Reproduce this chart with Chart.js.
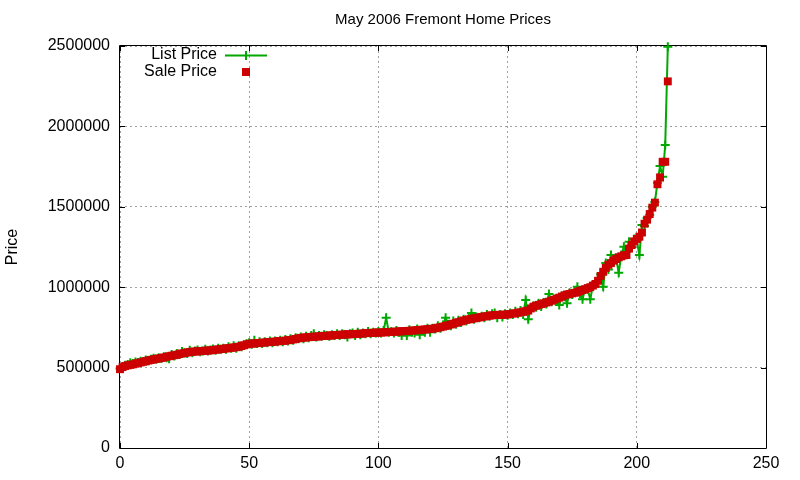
<!DOCTYPE html>
<html>
<head>
<meta charset="utf-8">
<script src="https://cdn.jsdelivr.net/npm/chart.js@4"></script>
<style>
html,body{margin:0;padding:0;background:#fff;}
#wrap{width:800px;height:480px;position:relative;}
</style>
</head>
<body>
<div id="wrap"><canvas id="c" width="800" height="480"></canvas></div>
<script>
const chartTitle = "May 2006 Fremont Home Prices";
const yAxisLabel = "Price";
const seriesNames = ["List Price", "Sale Price"];
const xTicks = [0, 50, 100, 150, 200, 250];
const yTicks = [0, 500000, 1000000, 1500000, 2000000, 2500000];

// Sale prices (thousands), sorted ascending
const salePriceK = [
  490, 503, 510, 514, 517, 520, 524, 528, 532, 536,
  540, 544, 548, 551, 554, 557, 560, 563, 567, 571,
  574, 577, 580, 584, 588, 591, 594, 597, 599, 600,
  601, 602, 603, 605, 606, 607, 609, 611, 613, 615,
  617, 619, 621, 623, 625, 627, 630, 634, 639, 644,
  648, 649, 650, 652, 653, 655, 656, 658, 659, 660,
  662, 663, 665, 666, 668, 670, 672, 675, 678, 682,
  685, 686, 688, 689, 690, 692, 693, 694, 696, 697,
  698, 699, 700, 702, 703, 704, 705, 706, 707, 707,
  708, 709, 710, 711, 712, 714, 715, 716, 717, 717,
  718, 718, 719, 720, 721, 722, 723, 724, 725, 726,
  727, 728, 729, 730, 731, 733, 734, 736, 737, 739,
  740, 742, 745, 748, 751, 755, 759, 763, 768, 773,
  778, 783, 788, 793, 797, 800, 803, 806, 809, 812,
  815, 818, 820, 823, 825, 827, 828, 828, 829, 829,
  830, 833, 836, 838, 841, 844, 847, 851, 855, 868,
  879, 884, 890, 895, 900, 905, 910, 916, 922, 929,
  935, 942, 949, 955, 958, 962, 965, 970, 976, 982,
  988, 994, 1000, 1010, 1020, 1040, 1070, 1096, 1120, 1140,
  1150, 1165, 1175, 1186, 1192, 1198, 1200, 1240, 1262, 1285,
  1300, 1314, 1340, 1395, 1420, 1455, 1495, 1526, 1640, 1683,
  1780, 1780, 2280
];

// List prices (thousands) for the same houses
const listPriceK = [
  495, 500, 515, 520, 530, 525, 535, 532, 540, 538,
  548, 542, 552, 558, 552, 562, 556, 568, 562, 555,
  582, 572, 588, 582, 600, 592, 588, 608, 592, 604,
  610, 598, 604, 614, 603, 610, 615, 608, 620, 614,
  620, 614, 630, 620, 636, 620, 636, 630, 642, 648,
  655, 645, 670, 650, 660, 650, 660, 655, 665, 655,
  665, 660, 670, 660, 675, 665, 680, 670, 685, 680,
  690, 680, 695, 685, 700, 710, 690, 700, 695, 705,
  700, 695, 705, 700, 710, 700, 710, 705, 690, 710,
  715, 700, 720, 705, 715, 710, 725, 710, 720, 715,
  725, 715, 730, 810, 720, 725, 715, 730, 720, 700,
  725, 700, 735, 720, 715, 740, 705, 730, 720, 745,
  720, 745, 740, 760, 745, 765, 810, 770, 760, 790,
  770, 795, 780, 800, 790, 805, 840, 800, 815, 810,
  820, 810, 830, 820, 835, 840, 810, 830, 815, 835,
  825, 840, 830, 850, 835, 855, 830, 920, 800, 870,
  885, 875, 900, 880, 905, 895, 958, 910, 925, 920,
  889, 945, 940, 900, 965, 955, 975, 1003, 960, 925,
  990, 985, 925, 1010, 1030, 1030, 1080, 1003, 1150, 1110,
  1200, 1160, 1180, 1090, 1200, 1252, 1220, 1283, 1250, 1300,
  1290, 1200, 1387, 1380, 1430, 1450, 1500, 1530, 1650, 1754,
  1687, 1884, 2495
];

const houseIndex = salePriceK.map((_, i) => i);
const salePrice = salePriceK.map(v => v * 1000);
const listPrice = listPriceK.map(v => v * 1000);

const GREEN = '#00a800';
const RED = '#cc0000';
const FONT = "'Liberation Sans', Arial, sans-serif";

const gnuplotDecor = {
  id: 'gnuplotDecor',
  beforeDatasetsDraw(chart) {
    const ctx = chart.ctx;
    const a = chart.chartArea;
    const xs = chart.scales.x, ys = chart.scales.y;
    ctx.save();
    ctx.strokeStyle = '#000';
    ctx.lineWidth = 1;
    ctx.setLineDash([]);
    ctx.beginPath();
    ctx.rect(Math.round(a.left) - 0.5, Math.round(a.top) - 0.5, Math.round(a.right - a.left) + 1, Math.round(a.bottom - a.top) + 1);
    ctx.stroke();
    const tl = 5;
    ctx.beginPath();
    xTicks.forEach(t => {
      const x = Math.round(xs.getPixelForValue(t)) + 0.5;
      ctx.moveTo(x, a.bottom); ctx.lineTo(x, a.bottom - tl);
      ctx.moveTo(x, a.top); ctx.lineTo(x, a.top + tl);
    });
    yTicks.forEach(t => {
      const y = Math.round(ys.getPixelForValue(t)) + 0.5;
      ctx.moveTo(a.left, y); ctx.lineTo(a.left + tl, y);
      ctx.moveTo(a.right, y); ctx.lineTo(a.right - tl, y);
    });
    ctx.stroke();
    ctx.restore();
  },
  afterDraw(chart) {
    const ctx = chart.ctx;
    const a = chart.chartArea;
    ctx.save();
    ctx.fillStyle = '#000';
    // title
    ctx.font = '15px ' + FONT;
    ctx.textAlign = 'center';
    ctx.textBaseline = 'middle';
    ctx.fillText(chartTitle, (a.left + a.right) / 2, 20);
    // y axis label
    ctx.font = '16px ' + FONT;
    ctx.save();
    ctx.translate(13, 247);
    ctx.rotate(-Math.PI / 2);
    ctx.fillText(yAxisLabel, 0, 0);
    ctx.restore();
    // legend
    ctx.textAlign = 'right';
    ctx.fillText(seriesNames[0], 217, 55);
    ctx.fillText(seriesNames[1], 217, 72);
    ctx.strokeStyle = GREEN;
    ctx.lineWidth = 2;
    ctx.beginPath();
    ctx.moveTo(225, 55.5); ctx.lineTo(267, 55.5);
    ctx.moveTo(246, 51); ctx.lineTo(246, 60);
    ctx.stroke();
    ctx.fillStyle = RED;
    ctx.fillRect(242, 68, 8, 8);
    ctx.restore();
  }
};

new Chart(document.getElementById('c'), {
  type: 'line',
  plugins: [gnuplotDecor],
  data: {
    labels: houseIndex,
    datasets: [
      {
        label: seriesNames[1],
        data: salePrice,
        showLine: false,
        pointStyle: 'rect',
        pointRadius: 5.6,
        pointBorderWidth: 0,
        pointBackgroundColor: RED,
        pointBorderColor: RED,
        backgroundColor: RED,
        borderColor: RED,
        clip: false,
        order: 0
      },
      {
        label: seriesNames[0],
        data: listPrice,
        showLine: true,
        borderColor: GREEN,
        borderWidth: 2,
        tension: 0,
        pointStyle: 'cross',
        pointRadius: 4.5,
        pointBorderWidth: 2,
        pointBorderColor: GREEN,
        pointBackgroundColor: GREEN,
        fill: false,
        clip: false,
        order: 1
      }
    ]
  },
  options: {
    responsive: false,
    animation: false,
    events: [],
    layout: { padding: { left: 0, right: 34, top: 46, bottom: 0 } },
    plugins: {
      legend: { display: false },
      title: { display: false },
      tooltip: { enabled: false }
    },
    scales: {
      x: {
        type: 'linear',
        min: 0, max: 250,
        afterFit(scale) { scale.height = 32; },
        afterBuildTicks(scale) { scale.ticks = xTicks.map(v => ({ value: v })); },
        ticks: { color: '#000', font: { family: FONT, size: 16 }, padding: 6, maxRotation: 0, autoSkip: false },
        grid: { color: '#a0a0a0', drawTicks: false, lineWidth: 1 },
        border: { display: false, dash: [2, 3] }
      },
      y: {
        type: 'linear',
        min: 0, max: 2500000,
        afterFit(scale) { scale.width = 120; },
        afterBuildTicks(scale) { scale.ticks = yTicks.map(v => ({ value: v })); },
        ticks: { color: '#000', font: { family: FONT, size: 16 }, padding: 10, autoSkip: false, callback: v => String(v) },
        grid: { color: '#a0a0a0', drawTicks: false, lineWidth: 1 },
        border: { display: false, dash: [2, 3] }
      }
    }
  }
});
</script>
</body>
</html>
